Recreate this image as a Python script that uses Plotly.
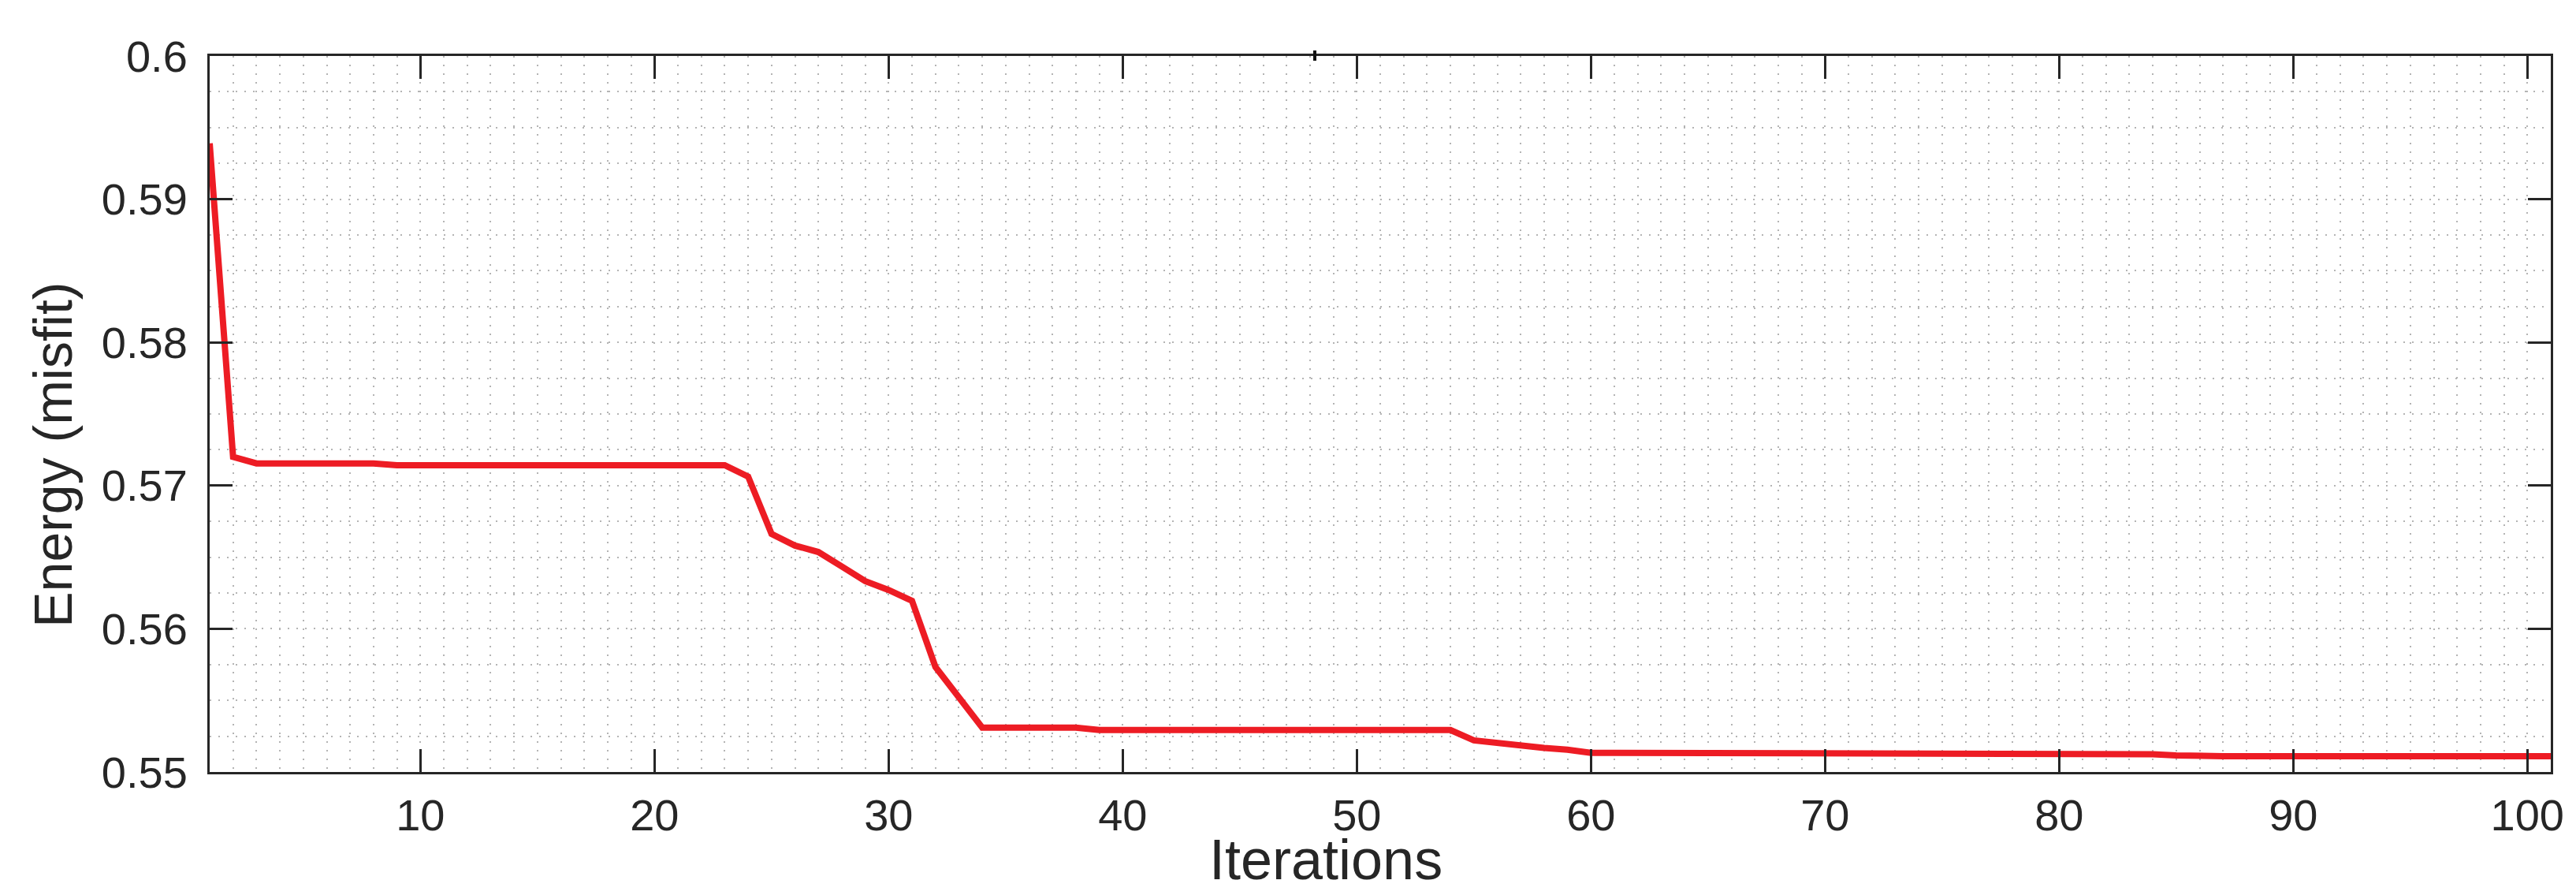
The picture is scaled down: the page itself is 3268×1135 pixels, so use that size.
import plotly.graph_objects as go

# ---- data ----
iterations = list(range(1, 102))
energy = [
    0.5939, 0.5720, 0.57155, 0.57155, 0.57155, 0.57155, 0.57155, 0.57155, 0.57142, 0.57142,
    0.57142, 0.57142, 0.57142, 0.57142, 0.57142, 0.57142, 0.57142, 0.57142, 0.57142, 0.57142,
    0.57142, 0.57142, 0.57142, 0.57063, 0.56663, 0.56581, 0.56536, 0.56435, 0.56333, 0.56271,
    0.56195, 0.55734, 0.55525, 0.55310, 0.55310, 0.55310, 0.55310, 0.55310, 0.55293, 0.55293,
    0.55293, 0.55293, 0.55293, 0.55293, 0.55293, 0.55293, 0.55293, 0.55293, 0.55293, 0.55293,
    0.55293, 0.55293, 0.55293, 0.55293, 0.55221, 0.55204, 0.55177, 0.55168, 0.55155, 0.55134,
    0.55134, 0.55134, 0.55134, 0.55134, 0.55134, 0.55134, 0.55134, 0.55134, 0.55134, 0.55134,
    0.55134, 0.55134, 0.55134, 0.55134, 0.55134, 0.55134, 0.55134, 0.55134, 0.55134, 0.55134,
    0.55134, 0.55134, 0.55130, 0.55124, 0.55116, 0.55110, 0.55110, 0.55110, 0.55110, 0.55110,
    0.55110, 0.55110, 0.55110, 0.55110, 0.55110, 0.55110, 0.55110, 0.55110, 0.55110, 0.55110,
    0.55110,
]
x_tickvals = [10, 20, 30, 40, 50, 60, 70, 80, 90, 100]
x_ticktext = ["10", "20", "30", "40", "50", "60", "70", "80", "90", "100"]
y_tickvals = [0.55, 0.56, 0.57, 0.58, 0.59, 0.6]
y_ticktext = ["0.55", "0.56", "0.57", "0.58", "0.59", "0.6"]
x_label = "Iterations"
y_label = "Energy (misfit)"

FONT = "Liberation Sans, Arial, Helvetica, sans-serif"
AXC = "#262626"
GRIDC = "#b4b4b4"
DOT = "2px,9px"

fig = go.Figure()
fig.add_trace(go.Scatter(
    x=iterations, y=energy, mode="lines",
    line=dict(color="#ED1C24", width=8),
    showlegend=False,
))

common_axis = dict(
    showline=True, linewidth=3, linecolor=AXC, mirror="ticks",
    ticks="inside", ticklen=29, tickwidth=3, tickcolor=AXC,
    showgrid=True, gridcolor=GRIDC, gridwidth=2, griddash=DOT,
    zeroline=False,
    tickfont=dict(family=FONT, size=56, color=AXC),
)

fig.update_xaxes(
    range=[1, 101], tickvals=x_tickvals, ticktext=x_ticktext,
    minor=dict(dtick=1, tick0=0, showgrid=True, gridcolor=GRIDC, gridwidth=2, griddash=DOT),
    ticklabelstandoff=4,
    **common_axis,
)
fig.update_yaxes(
    range=[0.55, 0.6], tickvals=y_tickvals, ticktext=y_ticktext,
    minor=dict(dtick=0.0025, tick0=0.55, showgrid=True, gridcolor=GRIDC, gridwidth=2, griddash=DOT),
    ticklabelstandoff=14,
    **common_axis,
)

fig.add_annotation(
    text=y_label, xref="paper", yref="paper", x=-0.067, y=0.443,
    xanchor="center", yanchor="middle", textangle=-90, showarrow=False,
    font=dict(family=FONT, size=68, color=AXC),
)
fig.add_annotation(
    text=x_label, xref="paper", yref="paper", x=(1674 - 258) / 2970, y=-0.122,
    xanchor="center", yanchor="middle", showarrow=False,
    font=dict(family=FONT, size=72, color=AXC),
)

# small stray mark on the top border
fig.add_shape(
    type="line", xref="paper", yref="paper",
    x0=(1660 - 258) / 2970, x1=(1660 - 258) / 2970, y0=1 - 6 / 908, y1=1 + 7 / 908,
    line=dict(color="#111111", width=4),
)

fig.update_layout(
    width=3268, height=1135,
    margin=dict(l=258, r=40, t=63, b=164),
    paper_bgcolor="white", plot_bgcolor="white",
    font=dict(family=FONT, color=AXC),
)

fig.write_html("out.html")
